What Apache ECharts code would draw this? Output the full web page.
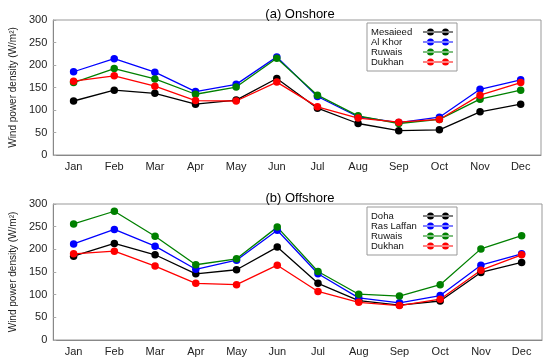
<!DOCTYPE html>
<html><head><meta charset="utf-8">
<script src="https://cdn.jsdelivr.net/npm/echarts@6/dist/echarts.min.js"></script>
<style>html,body{margin:0;padding:0;background:#fff}#c{width:550px;height:358px}</style>
</head><body><div id="c"></div>
<script>
const months = ['Jan','Feb','Mar','Apr','May','Jun','Jul','Aug','Sep','Oct','Nov','Dec'];
const yTicks = [0,50,100,150,200,250,300];
// (a) Onshore
const onMesaieed = [120,144,137,113,122,170,104,70,54,56,96,113];
const onAlKhor   = [185,214,184,141,157,218,130,85,72,84,146,167];
const onRuwais   = [161,192,169,135,151,215,133,87,70,79,124,144];
const onDukhan   = [164,176,153,121,120,162,107,82,73,79,133,161];
// (b) Offshore
const offDoha      = [185,213,188,146,155,205,125,87,77,86,149,171];
const offRasLaffan = [212,244,207,156,176,242,146,93,82,98,165,190];
const offRuwais    = [256,284,229,166,179,249,151,101,97,122,201,230];
const offDukhan    = [190,196,163,125,122,165,107,83,76,90,154,188];

const colors = {black:'#000000', blue:'#0000ff', green:'#008000', red:'#ff0000'};
const icon = 'path://M0,3.4L30,3.4L30,4.6L0,4.6Z M4,4a3.5,3.5 0 1,0 7,0a3.5,3.5 0 1,0 -7,0Z M19,4a3.5,3.5 0 1,0 7,0a3.5,3.5 0 1,0 -7,0Z';
const font = 'Arial, "Liberation Sans", sans-serif';

function mkSeries(name, data, color, idx){
  return {name, type:'line', data, xAxisIndex:idx, yAxisIndex:idx, color,
    symbol:'circle', symbolSize:7.5, lineStyle:{width:1.3, color}, itemStyle:{color},
    animation:false};
}
function mkX(idx){
  return {type:'category', gridIndex:idx, data:months, boundaryGap:true,
    axisLine:{lineStyle:{color:'#888'}}, axisTick:{inside:true, length:3, lineStyle:{color:'#aaa'}},
    axisLabel:{color:'#222', fontSize:11, fontFamily:font, margin:6}};
}
function mkY(idx){
  return {type:'value', gridIndex:idx, min:yTicks[0], max:yTicks[yTicks.length-1], interval:50,
    name:'Wind power density (W/m²)', nameLocation:'middle', nameGap:32, nameRotate:90,
    nameTextStyle:{color:'#222', fontSize:10, fontFamily:font},
    splitLine:{show:false}, axisLine:{show:true, lineStyle:{color:'#888'}},
    axisTick:{show:true, inside:true, length:3, lineStyle:{color:'#aaa'}},
    axisLabel:{color:'#222', fontSize:11, fontFamily:font, margin:6}};
}
function mkLegend(names, top){
  return {show:true, orient:'vertical', left:367, top, align:'right',
    data:names, icon, itemWidth:30, itemHeight:8, itemGap:0,
    borderColor:'#999', borderWidth:1, padding:[4,4,4,4], borderRadius:0,
    formatter: n => '{t|' + n.trim() + '}',
    textStyle:{color:'#111', fontSize:9.5, fontFamily:font, lineHeight:9.7,
      rich:{t:{width:47, align:'left', fontSize:9.5, lineHeight:9.7, fontFamily:font, color:'#111'}}},
    selectedMode:false};
}

const chart = echarts.init(document.getElementById('c'), null, {renderer:'canvas'});
chart.setOption({
  animation:false,
  backgroundColor:'#fff',
  title:[
    {text:'(a) Onshore', left:295, top:3, textAlign:'center', textStyle:{fontSize:13, fontWeight:'normal', color:'#000', fontFamily:font}},
    {text:'(b) Offshore', left:295, top:187, textAlign:'center', textStyle:{fontSize:13, fontWeight:'normal', color:'#000', fontFamily:font}}
  ],
  grid:[
    {left:48, right:9, top:20, height:135, show:true, borderColor:'#999', borderWidth:1, backgroundColor:'transparent'},
    {left:48, right:8, top:204, height:136, show:true, borderColor:'#999', borderWidth:1, backgroundColor:'transparent'}
  ],
  legend:[
    mkLegend(['Mesaieed','Al Khor','Ruwais','Dukhan'], 23),
    mkLegend(['Doha','Ras Laffan','Ruwais ','Dukhan '], 207)
  ],
  xAxis:[mkX(0), mkX(1)],
  yAxis:[mkY(0), mkY(1)],
  series:[
    mkSeries('Mesaieed', onMesaieed, colors.black, 0),
    mkSeries('Al Khor', onAlKhor, colors.blue, 0),
    mkSeries('Ruwais', onRuwais, colors.green, 0),
    mkSeries('Dukhan', onDukhan, colors.red, 0),
    mkSeries('Doha', offDoha, colors.black, 1),
    mkSeries('Ras Laffan', offRasLaffan, colors.blue, 1),
    mkSeries('Ruwais ', offRuwais, colors.green, 1),
    mkSeries('Dukhan ', offDukhan, colors.red, 1)
  ]
});
</script></body></html>
